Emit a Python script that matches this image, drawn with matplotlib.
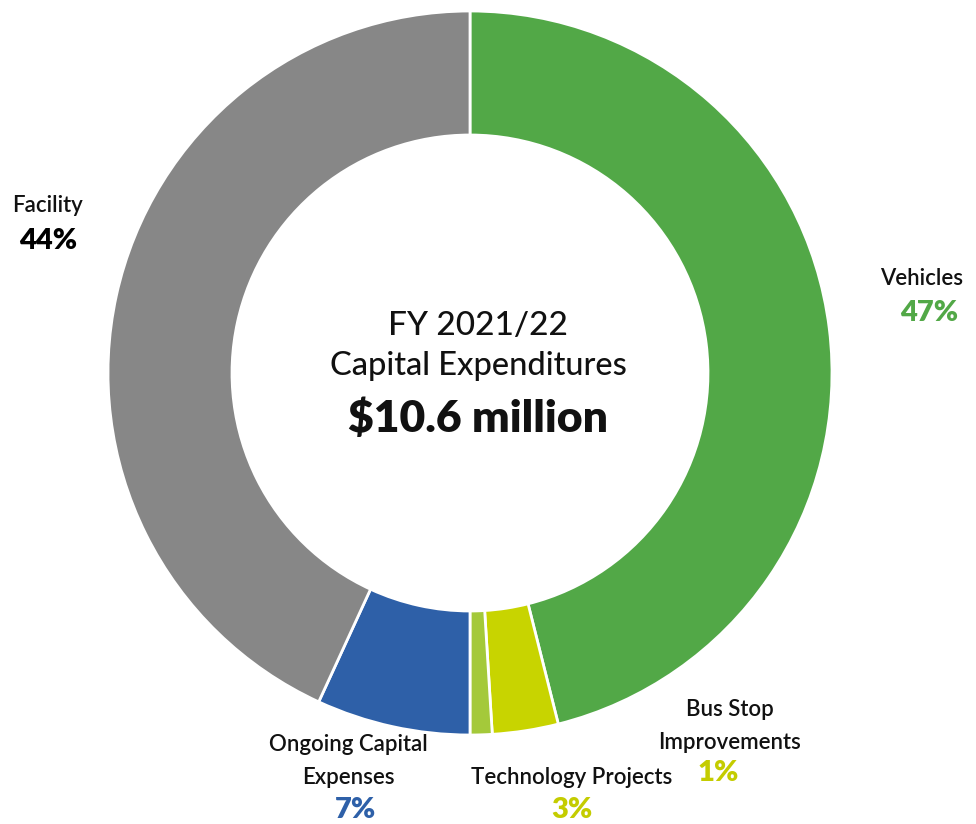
import matplotlib
matplotlib.use("Agg")
import matplotlib.pyplot as plt

plt.rcParams['font.family'] = ['Lato', 'DejaVu Sans']

# capital expenditure shares, clockwise from 12 o'clock
categories = ["Vehicles", "Technology Projects", "Bus Stop\nImprovements",
              "Ongoing Capital\nExpenses", "Facility"]
shares = [47, 3, 1, 7, 44]
colors = ["#52a847", "#c8d400", "#a4c93a", "#2e60a8", "#878787"]
label_colors = ["#52a847", "#c4cc00", "#c4cc00", "#2e60a8", "#000000"]

W, H = 976, 824
fig = plt.figure(figsize=(W / 100, H / 100), dpi=100)
ax = fig.add_axes([0, 0, 1, 1])


def py(y):
    # pixel row -> axis y
    return H - y


ax.pie(shares, colors=colors, startangle=90, counterclock=False,
       center=(470, py(373)), radius=362, frame=True,
       wedgeprops=dict(width=124, edgecolor='white', linewidth=2))
ax.set_xlim(0, W)
ax.set_ylim(0, H)
ax.set_aspect('equal')
ax.axis('off')

# label anchors (name centre, percent centre)
name_pos = [(922, 278), (572, 778), (730, 726), (348, 761), (48, 205)]
pct_pos = [(929, 313), (572, 810), (718, 773), (355, 810), (48, 241)]

for cat, s, lc, (nx, ny), (px, pyy) in zip(categories, shares, label_colors,
                                           name_pos, pct_pos):
    ax.text(nx, py(ny), cat, ha='center', va='center', fontsize=16,
            fontweight='semibold', color='#111111', linespacing=1.7)
    ax.text(px, py(pyy), f"{s}%", ha='center', va='center', fontsize=21,
            fontweight='heavy', color=lc)

ax.text(478, py(326), "FY 2021/22", ha='center', va='center', fontsize=24,
        fontweight='medium', color='#111111')
ax.text(478, py(366), "Capital Expenditures", ha='center', va='center',
        fontsize=23.5, fontweight='medium', color='#111111')
ax.text(478, py(419), "$10.6 million", ha='center', va='center',
        fontsize=32, fontweight='heavy', color='#111111')

fig.savefig("out.png", dpi=100)
